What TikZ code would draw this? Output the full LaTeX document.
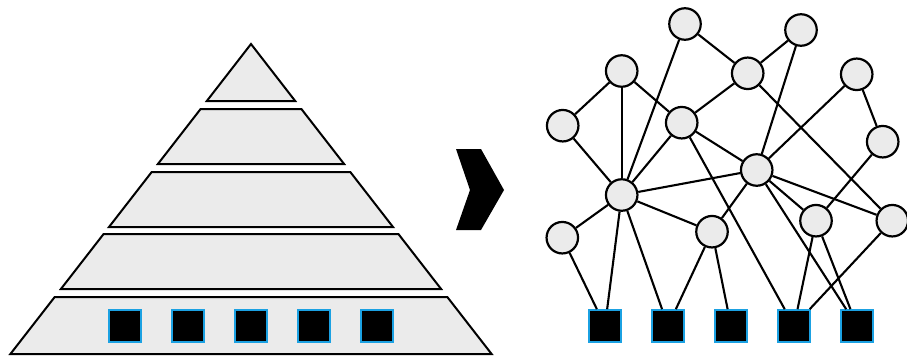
\documentclass[tikz,border=0pt]{standalone}
\definecolor{fillgray}{HTML}{EBEBEB}
\definecolor{sqblue}{HTML}{1BA1E2}
\tikzset{
  band/.style={draw=black, fill=fillgray, line width=2pt, line join=miter},
  netnode/.style={circle, draw=black, fill=fillgray, line width=2.2pt, minimum size=31.5pt, inner sep=0pt},
  blk/.style={rectangle, draw=sqblue, fill=black, line width=2.2pt, minimum size=31.5pt, inner sep=0pt},
  edge/.style={draw=black, line width=2.1pt}
}
\begin{document}
\begin{tikzpicture}[x=1pt,y=-1pt]
\useasboundingbox (0,0) rectangle (907,356);
% pyramid bands
\path[band] (251,44) -- (295.2,101) -- (206.8,101) -- cycle;
\path[band] (200.6,109) -- (301.4,109) -- (344.1,164) -- (157.9,164) -- cycle;
\path[band] (151.7,172) -- (350.3,172) -- (393,227) -- (109,227) -- cycle;
\path[band] (103.6,234) -- (398.4,234) -- (441.1,289) -- (60.9,289) -- cycle;
\path[band] (54.7,297) -- (447.3,297) -- (491.6,354) -- (10.4,354) -- cycle;
% squares in pyramid
\foreach \i/\x in {1/125,2/188,3/251,4/314,5/377}
  \node[blk] (p\i) at (\x,326) {};
% chevron
\fill[black] (456,149) -- (481,149) -- (504,190) -- (481,230) -- (456,230) -- (470,190) -- cycle;
% network nodes
\node[netnode] (A) at (685,24) {};
\node[netnode] (B) at (801,30) {};
\node[netnode] (C) at (621.7,71) {};
\node[netnode] (D) at (747.7,73.3) {};
\node[netnode] (E) at (856.7,74.3) {};
\node[netnode] (F) at (562.7,125.7) {};
\node[netnode] (G) at (681.7,122.7) {};
\node[netnode] (H) at (882.7,141.7) {};
\node[netnode] (I) at (756.7,170) {};
\node[netnode] (J) at (621.7,195) {};
\node[netnode] (K) at (562.3,237.7) {};
\node[netnode] (L) at (712,231.7) {};
\node[netnode] (M) at (816,220.7) {};
\node[netnode] (N) at (892.3,220.7) {};
% bottom squares
\node[blk] (q1) at (605,326) {};
\node[blk] (q2) at (668,326) {};
\node[blk] (q3) at (731,326) {};
\node[blk] (q4) at (794,326) {};
\node[blk] (q5) at (857,326) {};
% edges
\foreach \a/\b in {A/D,A/J,B/D,B/I,C/F,C/J,C/G,D/G,D/N,E/I,E/H,H/M,F/J,G/J,G/I,G/q4,J/I,I/L,I/M,I/N,I/q5,J/K,J/q1,J/q2,J/L,K/q1,L/q2,L/q3,M/q4,M/q5,N/q4}
  \draw[edge] (\a) -- (\b);
\end{tikzpicture}
\end{document}
